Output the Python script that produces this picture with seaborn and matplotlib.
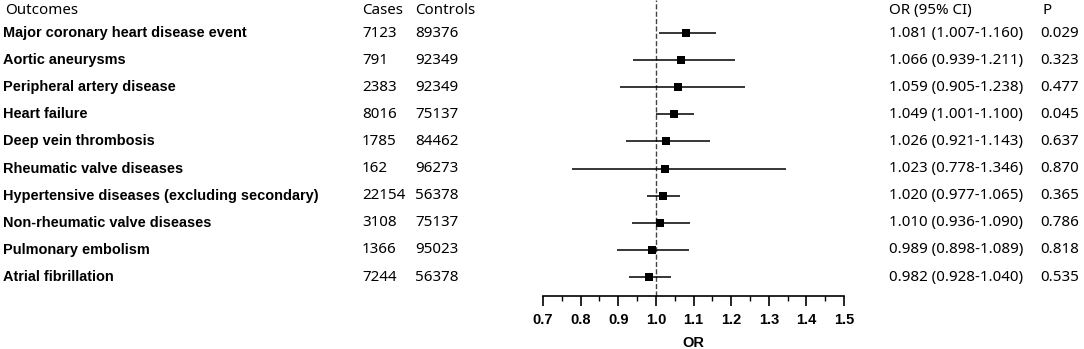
import matplotlib
matplotlib.use("Agg")
import matplotlib.pyplot as plt
import matplotlib.transforms as mtransforms
import pandas as pd
import seaborn as sns

outcomes = [
    'Major coronary heart disease event',
    'Aortic aneurysms',
    'Peripheral artery disease',
    'Heart failure',
    'Deep vein thrombosis',
    'Rheumatic valve diseases',
    'Hypertensive diseases (excluding secondary)',
    'Non-rheumatic valve diseases',
    'Pulmonary embolism',
    'Atrial fibrillation',
]
cases = [7123, 791, 2383, 8016, 1785, 162, 22154, 3108, 1366, 7244]
controls = [89376, 92349, 92349, 75137, 84462, 96273, 56378, 75137, 95023, 56378]
odds = [1.081, 1.066, 1.059, 1.049, 1.026, 1.023, 1.020, 1.010, 0.989, 0.982]
lower = [1.007, 0.939, 0.905, 1.001, 0.921, 0.778, 0.977, 0.936, 0.898, 0.928]
upper = [1.160, 1.211, 1.238, 1.100, 1.143, 1.346, 1.065, 1.090, 1.089, 1.040]
pvals = ['0.029', '0.323', '0.477', '0.045', '0.637', '0.870', '0.365', '0.786', '0.818', '0.535']
xticks = [0.7, 0.8, 0.9, 1.0, 1.1, 1.2, 1.3, 1.4, 1.5]

df = pd.DataFrame({'outcome': outcomes, 'OR': odds, 'lo': lower, 'hi': upper})
df['row'] = range(len(df))

sns.set_theme(style='white')
plt.rcParams['font.family'] = ['Noto Sans', 'DejaVu Sans']
plt.rcParams['text.color'] = 'black'

W, H = 1084, 349
fig = plt.figure(figsize=(W / 100, H / 100), dpi=100)
ax = fig.add_axes([543 / W, 53 / H, (844 - 543) / W, 1 - 53 / H])

# CI lines + square markers
ax.hlines(df['row'], df['lo'], df['hi'], color='black', lw=1.1, zorder=2)
sns.scatterplot(data=df, x='OR', y='row', marker='s', s=38, color='black',
                edgecolor='black', linewidth=0, ax=ax, zorder=3)
ax.axvline(1.0, ls='--', color='#444444', lw=1.0, zorder=1)

ax.set_xlim(0.7, 1.5)
ax.set_ylim(9.70, -1.22)
ax.set_yticks([])
ax.set_ylabel('')
for s in ['top', 'right', 'left']:
    ax.spines[s].set_visible(False)
ax.spines['bottom'].set_color('black')
ax.spines['bottom'].set_linewidth(1.2)
ax.set_xticks(xticks)
ax.set_xticklabels([f'{t:.1f}' for t in xticks])
for lab in ax.get_xticklabels():
    lab.set_fontweight('bold')
    lab.set_family('Liberation Sans')
    lab.set_fontsize(10.5)
    lab.set_color('black')
ax.set_xticks([0.75, 0.85, 0.95, 1.05, 1.15, 1.25, 1.35, 1.45], minor=True)
ax.tick_params(axis='x', which='major', direction='out', length=7, width=1.2,
               color='black', bottom=True, pad=5)
ax.tick_params(axis='x', which='minor', direction='out', length=3.5, width=1.0,
               color='black', bottom=True)
ax.set_xlabel('OR', fontweight='bold', family='Liberation Sans', fontsize=10.5,
              color='black')
ax.xaxis.set_label_coords(0.5, -40 / 296)

tr = mtransforms.blended_transform_factory(fig.transFigure, ax.transData)
hdr_y = -0.85
fs = 10.9
ax.text(5 / W, hdr_y, 'Outcomes', transform=tr, fontsize=fs, va='center')
ax.text(362 / W, hdr_y, 'Cases', transform=tr, fontsize=fs, va='center')
ax.text(415 / W, hdr_y, 'Controls', transform=tr, fontsize=fs, va='center')
ax.text(889 / W, hdr_y, 'OR (95% CI)', transform=tr, fontsize=fs, va='center')
ax.text(1042 / W, hdr_y, 'P', transform=tr, fontsize=fs, va='center')

for i in range(len(outcomes)):
    ax.text(3 / W, i, outcomes[i], transform=tr, fontsize=10.45, va='center',
            fontweight='bold', family='Liberation Sans')
    ax.text(362 / W, i, str(cases[i]), transform=tr, fontsize=fs, va='center')
    ax.text(415 / W, i, str(controls[i]), transform=tr, fontsize=fs, va='center')
    ax.text(889 / W, i, f'{odds[i]:.3f} ({lower[i]:.3f}-{upper[i]:.3f})',
            transform=tr, fontsize=fs, va='center')
    ax.text(1040 / W, i, pvals[i], transform=tr, fontsize=fs, va='center')

fig.savefig('out.png', dpi=100)
